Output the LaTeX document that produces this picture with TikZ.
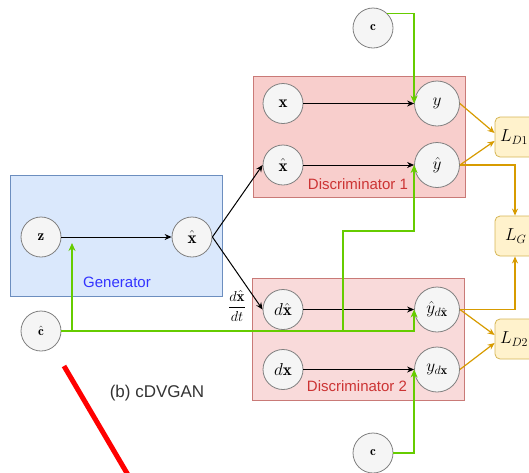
\documentclass[tikz,border=0pt]{standalone}
\usepackage{fontspec}
\setsansfont{Liberation Sans}
\usetikzlibrary{arrows.meta}
\definecolor{genfill}{HTML}{DAE8FC}
\definecolor{gendraw}{HTML}{6C8EBF}
\definecolor{discfill}{HTML}{F8CECC}
\definecolor{discfillb}{HTML}{F9DADA}
\definecolor{discdraw}{HTML}{C97A77}
\definecolor{nodefill}{HTML}{F5F5F5}
\definecolor{nodedraw}{HTML}{808080}
\definecolor{lossfill}{HTML}{FFF2CC}
\definecolor{lossdraw}{HTML}{D6B656}
\definecolor{orangeline}{HTML}{D79B00}
\definecolor{greenline}{HTML}{66CC00}
\definecolor{genlabelcol}{HTML}{3333FF}
\definecolor{disclabelcol}{HTML}{CC3333}
\definecolor{captioncol}{HTML}{333333}
\definecolor{redline}{HTML}{FF0000}
\begin{document}
\begin{tikzpicture}[x=1pt,y=-1pt,
  blockbox/.style={draw, line width=0.8pt, inner sep=0pt},
  genbox/.style={blockbox, fill=genfill, draw=gendraw, minimum width=212pt, minimum height=121pt},
  discbox/.style={blockbox, fill=discfill, draw=discdraw, minimum width=212pt, minimum height=121pt},
  discboxb/.style={blockbox, fill=discfillb, draw=discdraw, minimum width=212pt, minimum height=122pt},
  boxlabel/.style={font=\sffamily\fontsize{15}{17}\selectfont, inner sep=0pt},
  innode/.style={circle, draw=nodedraw, fill=nodefill, line width=0.8pt, minimum size=40pt, inner sep=0pt, font=\fontsize{17}{19}\selectfont},
  outnode/.style={innode, minimum size=45pt, font=\fontsize{18}{20}\selectfont},
  smallnode/.style={innode, font=\fontsize{13}{15}\selectfont},
  lossbox/.style={draw=lossdraw, fill=lossfill, line width=0.8pt, rounded corners=5pt, minimum height=40pt, inner ysep=0pt, inner xsep=5pt, text width=38pt, font=\fontsize{17}{19}\selectfont},
  blk/.style={draw=black, line width=1pt, -{Stealth[length=7pt,width=6pt]}},
  grn/.style={draw=greenline, line width=1.8pt, -{Stealth[length=8pt,width=7pt]}},
  org/.style={draw=orangeline, line width=1.2pt, -{Stealth[length=7pt,width=6pt]}},
]
\useasboundingbox (0,0) rectangle (529,472);
\clip (0,0) rectangle (529,472);

% containers
\node[genbox] (gen) at (116,235.5) {};
\node[discbox] (d1) at (359,136.5) {};
\node[discboxb] (d2) at (358,339) {};
\node[boxlabel, text=genlabelcol] (genl) at (117,282) {Generator};
\node[boxlabel, text=disclabelcol] (d1l) at (358,184) {Discriminator 1};
\node[boxlabel, text=disclabelcol] (d2l) at (357,386) {Discriminator 2};

% nodes
\node[innode, font=\fontsize{15}{17}\selectfont] (z) at (41,237) {$\mathbf{z}$};
\node[innode] (xhg) at (192,237) {$\hat{\mathbf{x}}$};
\node[smallnode] (chat) at (41,331) {$\hat{\mathbf{c}}$};
\node[innode] (x) at (283,103.5) {$\mathbf{x}$};
\node[innode] (xh) at (283,165) {$\hat{\mathbf{x}}$};
\node[outnode] (y) at (437,103.5) {$y$};
\node[outnode] (yh) at (437,165) {$\hat{y}$};
\node[innode] (dxh) at (283,309.5) {$d\hat{\mathbf{x}}$};
\node[outnode] (ydxh) at (437,309.5) {$\hat{y}_{d\hat{\mathbf{x}}}$};
\node[innode] (dx) at (283,369.5) {$d\mathbf{x}$};
\node[outnode] (ydx) at (437,369.5) {$y_{d\mathbf{x}}$};
\node[smallnode] (c1) at (373,28) {$\mathbf{c}$};
\node[smallnode] (c2) at (373,453) {$\mathbf{c}$};

% losses
\node[lossbox, align=left] (LD1) at (519,137) {$L_{D1}$};
\node[lossbox, align=left] (LG) at (519,236) {\hspace*{5pt}$L_{G}$};
\node[lossbox, align=left] (LD2) at (519,339) {$L_{D2}$};

% derivative label
\node[font=\fontsize{15}{17}\selectfont, inner sep=0pt] (frac) at (237,306) {$\displaystyle\frac{d\hat{\mathbf{x}}}{dt}$};

% caption
\node[font=\sffamily\fontsize{17}{19}\selectfont, text=captioncol, inner sep=0pt] (cap) at (157,393) {(b) cDVGAN};

% red stroke
\coordinate (r1) at (64,366);
\coordinate (r2) at (131,480);
\draw[redline, line width=5pt] (r1) -- (r2);

% black arrows
\draw[blk] (z) -- (xhg);
\draw[blk] (xhg.east) -- (xh.west);
\draw[blk] (xhg.east) -- (dxh.west);
\draw[blk] (x) -- (y);
\draw[blk] (xh) -- (yh);
\draw[blk] (dxh) -- (ydxh);
\draw[blk] (dx) -- (ydx);

% green arrows
\coordinate (g1) at (72,331);
\coordinate (g1t) at (72,243);
\coordinate (g2) at (343,331);
\coordinate (g3) at (343,231);
\draw[grn] (c1.north east) -| (y.west);
\draw[grn] (c2.east) -| (ydx.west);
\draw[grn] (chat.east) -| (ydxh.west);
\draw[grn] (g1) -- (g1t);
\draw[grn] (g2) -- (g3) -| (yh.west);

% orange arrows
\draw[org] (y.east) -- ([yshift=4pt]LD1.west);
\draw[org] (yh.east) -- ([yshift=-4pt]LD1.west);
\draw[org] (yh.east) -| ([xshift=-4pt]LG.north);
\draw[org] (ydxh.east) -| ([xshift=-4pt]LG.south);
\draw[org] (ydxh.east) -- ([yshift=4pt]LD2.west);
\draw[org] (ydx.east) -- ([yshift=-4pt]LD2.west);
\end{tikzpicture}
\end{document}
